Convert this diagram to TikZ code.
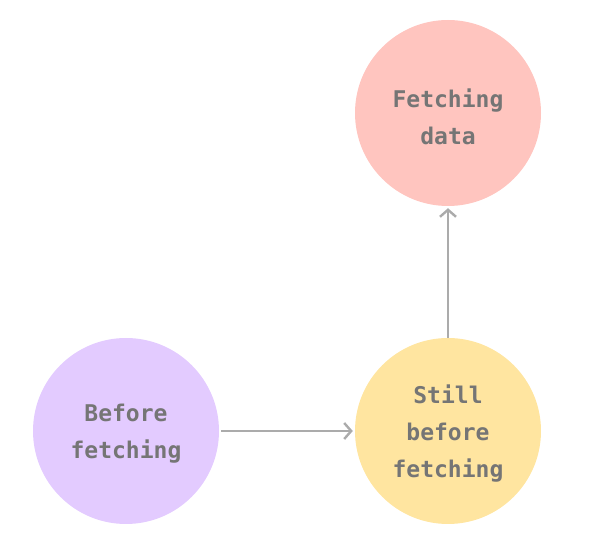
\documentclass[tikz,border=0pt]{standalone}
\usepackage{fontspec}
\setmonofont{DejaVu Sans Mono}
\usetikzlibrary{arrows.meta,positioning}
\definecolor{statepink}{HTML}{FFC5BF}
\definecolor{statepurple}{HTML}{E3CBFF}
\definecolor{stateyellow}{HTML}{FFE5A0}
\definecolor{labelgray}{HTML}{757575}
\definecolor{arrowgray}{HTML}{ABABAB}

\begin{document}
\begin{tikzpicture}[x=1pt,y=1pt,
  state/.style={circle, minimum size=186pt, inner sep=0pt, align=center,
    font=\ttfamily\bfseries\fontsize{23}{37}\selectfont, text=labelgray,
    text depth=-1pt},
  flow/.style={draw=arrowgray, line width=2.4pt, -{Straight Barb[length=7pt,width=16pt,line width=2.4pt]}}]
\useasboundingbox (0,0) rectangle (590,555);
% states
\node[state, fill=statepink, text height=63pt] (fetching) at (448,442) {Fetching\\data};
\node[state, fill=statepurple] (before) at (126,124) {Before\\fetching};
\node[state, fill=stateyellow] (still) at (448,124) {Still\\before\\fetching};
% transitions
\draw[flow, shorten <=2pt, shorten >=2pt] (before) -- (still);
\draw[flow, shorten >=2pt] (still) -- (fetching);
\end{tikzpicture}
\end{document}
